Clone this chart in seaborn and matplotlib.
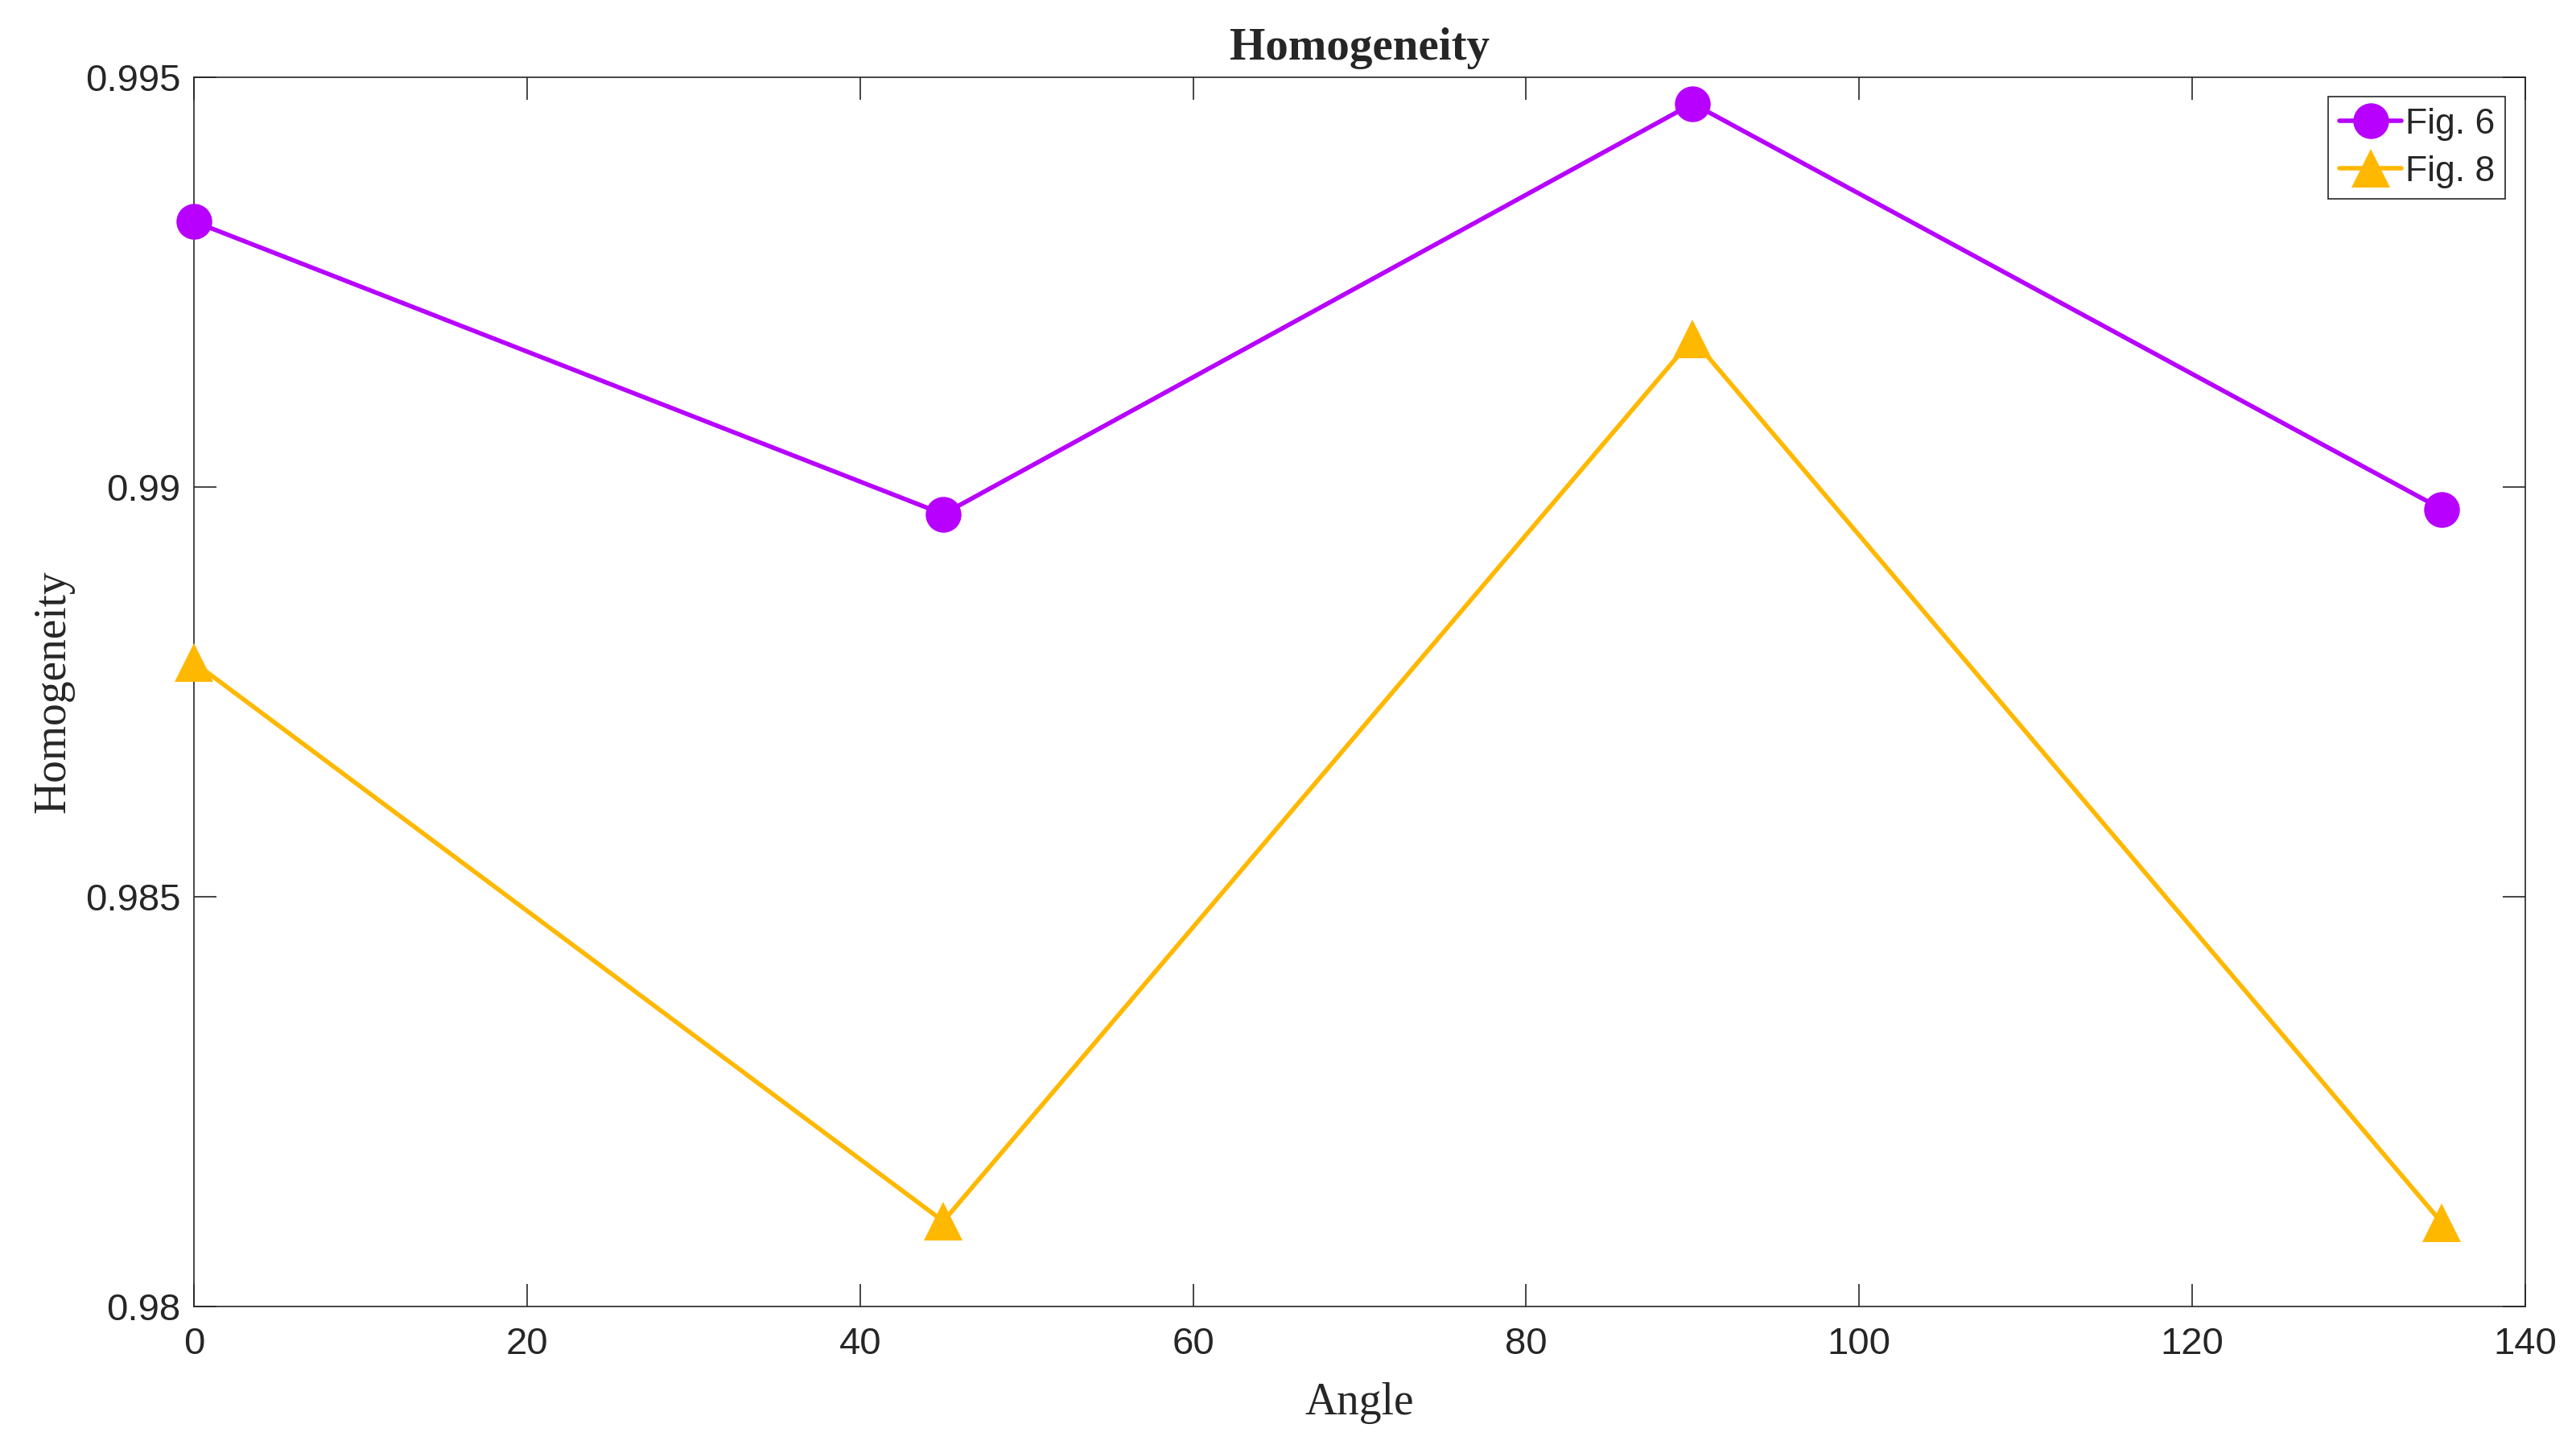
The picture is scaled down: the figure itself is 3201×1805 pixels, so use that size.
import pandas as pd
import matplotlib
matplotlib.use("Agg")
import matplotlib.pyplot as plt
import seaborn as sns

# -----------------------------
# DATA
# -----------------------------

angles = [0, 45, 90, 135]
fig6_homogeneity = [0.99324, 0.98967, 0.99468, 0.98973]
fig8_homogeneity = [0.98786, 0.98104, 0.99181, 0.98102]

x_ticks = [0, 20, 40, 60, 80, 100, 120, 140]
y_ticks = [0.98, 0.985, 0.99, 0.995]
y_tick_labels = ["0.98", "0.985", "0.99", "0.995"]

df = pd.DataFrame({
    "Angle": angles,
    "Fig. 6": fig6_homogeneity,
    "Fig. 8": fig8_homogeneity,
})

# -----------------------------
# STYLE
# -----------------------------

sns.set_style("ticks")
plt.rcParams["font.family"] = ["Liberation Sans", "DejaVu Sans"]

purple = "#B700FF"
orange = "#FFB800"

fig = plt.figure(figsize=(16.005, 9.025), dpi=200)
ax = fig.add_axes([0.0753, 0.1008, 0.9050, 0.8460])

sns.lineplot(
    data=df, x="Angle", y="Fig. 6",
    color=purple, marker="o", markersize=16,
    markeredgewidth=0, linewidth=2.0, label="Fig. 6",
    clip_on=False, zorder=3, ax=ax
)
sns.lineplot(
    data=df, x="Angle", y="Fig. 8",
    color=orange, marker="^", markersize=17,
    markeredgewidth=0, linewidth=2.0, label="Fig. 8",
    clip_on=False, zorder=3, ax=ax
)

ax.set_xlim(0, 140)
ax.set_ylim(0.98, 0.995)
ax.set_xticks(x_ticks)
ax.set_yticks(y_ticks)
ax.set_yticklabels(y_tick_labels)

for side in ["top", "right", "bottom", "left"]:
    ax.spines[side].set_visible(True)
    ax.spines[side].set_linewidth(0.6)
    ax.spines[side].set_color("#262626")

ax.tick_params(
    direction="in", length=10, width=0.6, color="#262626",
    top=True, right=True, labelsize=17, labelcolor="#262626"
)
ax.tick_params(axis="x", pad=9)
ax.tick_params(axis="y", pad=6)

serif = ["Liberation Serif", "DejaVu Serif"]
ax.set_title("Homogeneity", family=serif, fontsize=20.5,
             fontweight="bold", pad=8)
ax.set_xlabel("Angle", family=serif, fontsize=20, color="#262626", labelpad=9)
ax.set_ylabel("Homogeneity", family=serif, fontsize=20, color="#262626", labelpad=5)

leg = ax.legend(
    loc="upper right", fontsize=16, frameon=True, fancybox=False,
    handlelength=1.75, handletextpad=0.1, borderpad=0.3,
    labelspacing=0.4, borderaxespad=0.55
)
leg.get_frame().set_edgecolor("#262626")
leg.get_frame().set_linewidth(0.6)
leg.get_frame().set_alpha(1)

fig.savefig("out.png", dpi=200)
